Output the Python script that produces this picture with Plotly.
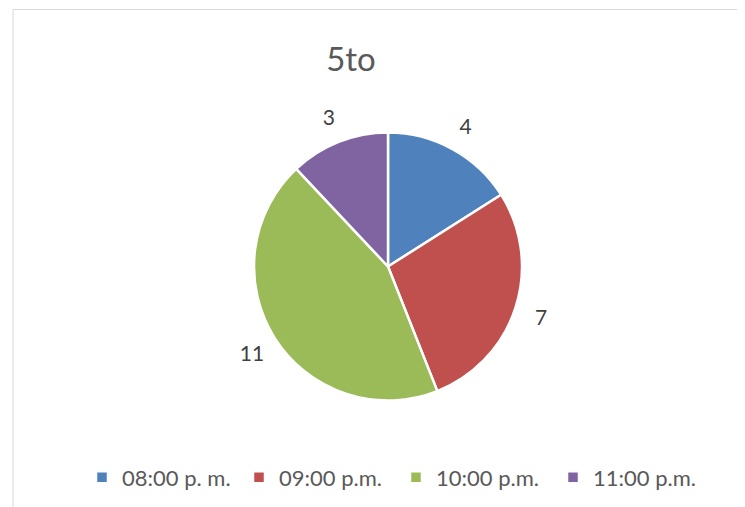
import plotly.graph_objects as go

# data
horas = ["08:00 p. m.", "09:00 p.m.", "10:00 p.m.", "11:00 p.m."]
conteos = [4, 7, 11, 3]
colores = ["#4F81BD", "#C0504D", "#9BBB59", "#8064A2"]

# page body has an 8px margin, so the figure is drawn 8px smaller
W, H = 737, 499
cx, cy = 380, 258.5   # pie centre in px
r_pie = 134           # pie radius in px
r_lab = 190           # outer ring that carries the value labels
hole_lab = 0.695

def dom(r):
    return dict(x=[(cx - r) / W, (cx + r) / W],
                y=[1 - (cy + r) / H, 1 - (cy - r) / H])

fig = go.Figure()

# main pie
fig.add_trace(go.Pie(
    labels=horas, values=conteos, sort=False, direction="clockwise",
    rotation=0, domain=dom(r_pie),
    marker=dict(colors=colores, line=dict(color="white", width=2.5)),
    textinfo="none", name="5to",
))

# transparent ring used only to place the value labels a bit off the pie
fig.add_trace(go.Pie(
    labels=horas, values=conteos, sort=False, direction="clockwise",
    rotation=0, domain=dom(r_lab), hole=hole_lab,
    marker=dict(colors=["rgba(0,0,0,0)"] * 4, line=dict(width=0)),
    textinfo="value", textposition="inside", insidetextorientation="horizontal",
    textfont=dict(size=21, color="#404040", family="Lato"),
    showlegend=False, hoverinfo="skip",
))

fig.update_layout(
    width=W, height=H,
    margin=dict(l=0, r=0, t=0, b=0),
    paper_bgcolor="white", plot_bgcolor="white",
    font=dict(family="Lato", color="#595959"),
    title=dict(text="5to", x=343 / W, xanchor="center", y=1 - 51 / H, yanchor="middle",
               font=dict(size=33, color="#595959", family="Lato")),
    legend=dict(orientation="h", x=74 / W, xanchor="left", y=1 - 469.5 / H, yanchor="middle",
                font=dict(size=22, color="#595959"), bgcolor="rgba(0,0,0,0)",
                entrywidth=112, traceorder="normal"),
    uniformtext=dict(minsize=21, mode="show"),
    shapes=[dict(type="rect", xref="paper", yref="paper",
                 x0=5 / W, x1=1.05, y0=-0.05, y1=1 - 1.5 / H,
                 line=dict(color="#D9D9D9", width=1), layer="below")],
)

fig.write_html("out.html")
